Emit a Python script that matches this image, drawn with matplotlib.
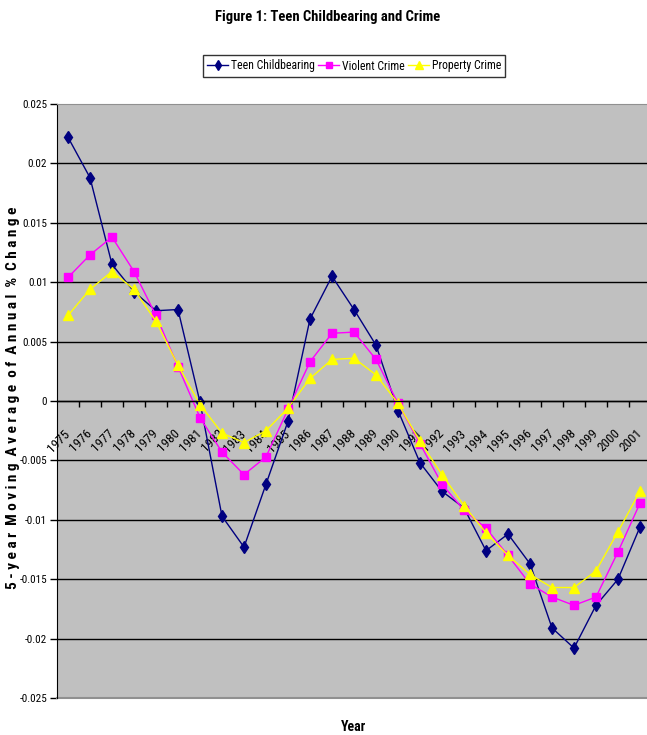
import matplotlib
matplotlib.use("Agg")
import matplotlib.pyplot as plt
from matplotlib.ticker import FixedLocator

years = [str(y) for y in range(1975, 2002)]

teen_childbearing = [0.0222, 0.0188, 0.0115, 0.0092, 0.0076, 0.0077, -0.0001,
                     -0.0097, -0.0123, -0.0070, -0.0017, 0.0069, 0.0105, 0.0077,
                     0.0047, -0.0008, -0.0052, -0.0076, -0.0090, -0.0126, -0.0112,
                     -0.0137, -0.0191, -0.0208, -0.0172, -0.0150, -0.0106]
violent_crime = [0.0104, 0.0123, 0.0138, 0.0109, 0.0072, 0.0029, -0.0014,
                 -0.0043, -0.0062, -0.0047, -0.0007, 0.0033, 0.0057, 0.0058,
                 0.0035, -0.0002, -0.0036, -0.0070, -0.0092, -0.0107, -0.0130,
                 -0.0154, -0.0165, -0.0172, -0.0165, -0.0127, -0.0086]
property_crime = [0.0072, 0.0094, 0.0109, 0.0094, 0.0067, 0.0030, -0.0003,
                  -0.0027, -0.0035, -0.0025, -0.0006, 0.0019, 0.0035, 0.0036,
                  0.0022, -0.0002, -0.0034, -0.0062, -0.0088, -0.0111, -0.0130,
                  -0.0146, -0.0157, -0.0157, -0.0143, -0.0110, -0.0076]

y_ticks = [0.025, 0.02, 0.015, 0.01, 0.005, 0, -0.005, -0.01, -0.015, -0.02, -0.025]
y_tick_labels = ["0.025", "0.02", "0.015", "0.01", "0.005", "0",
                 "-0.005", "-0.01", "-0.015", "-0.02", "-0.025"]

plt.rcParams["font.family"] = ["Roboto Condensed", "DejaVu Sans"]

fig = plt.figure(figsize=(6.47, 7.35), dpi=100)
ax = fig.add_axes([57 / 647, 1 - 698 / 735, 594 / 647, 594 / 735])
ax.set_facecolor("#C0C0C0")

x = list(range(len(years)))
ax.plot(x, teen_childbearing, color="#000080", marker="d", markersize=6,
        linewidth=1, label="Teen Childbearing")
ax.plot(x, violent_crime, color="#FF00FF", marker="s", markersize=5.5,
        linewidth=1, label="Violent Crime")
ax.plot(x, property_crime, color="#FFFF00", marker="^", markersize=6.5,
        linewidth=1, label="Property Crime")

ax.set_xlim(-0.5, len(years) - 0.5)
ax.set_ylim(-0.025, 0.025)
ax.yaxis.set_major_locator(FixedLocator(y_ticks))
ax.set_yticklabels(y_tick_labels, fontsize=8)
for v in y_ticks[1:-1]:
    ax.axhline(v, color="black", linewidth=1, zorder=0.5)

ax.spines["bottom"].set_position(("data", 0))
ax.spines["bottom"].set_linewidth(1)
ax.spines["top"].set_color("#909090")
ax.spines["right"].set_visible(False)
ax.axhline(-0.025, color="#909090", linewidth=1.5, clip_on=False)

# year labels at category centres, tick marks between categories
ax.set_xticks(x)
ax.set_xticklabels(years, rotation=45, ha="right", va="center",
                   rotation_mode="anchor", fontsize=9.5)
ax.set_xticks([i + 0.5 for i in x], minor=True)
ax.tick_params(axis="x", which="major", length=0, pad=22)
ax.tick_params(axis="x", which="minor", direction="out", length=4, width=1)
ax.tick_params(axis="y", direction="out", length=5, width=1, pad=2)

ylab = "  ".join(" ".join(w) for w in "5-year Moving Average of Annual % Change".split(" "))
fig.text(13 / 647, 1 - 398 / 735, ylab, rotation=90, ha="center", va="center",
         fontsize=11, fontweight="bold")
fig.text(354 / 647, 1 - 727 / 735, "Year", ha="center", va="center",
         fontsize=10, fontweight="bold")
fig.text(328 / 647, 1 - 17 / 735, "Figure 1: Teen Childbearing and Crime",
         ha="center", va="center", fontsize=10.5, fontweight="bold")

leg = fig.legend(loc="center", bbox_to_anchor=(354 / 647, 1 - 66 / 735), ncol=3,
                 fontsize=8.5, frameon=True, fancybox=False, edgecolor="black",
                 handlelength=1.8, handletextpad=0.2, columnspacing=0.3,
                 borderpad=0.35, markerscale=0.9)
leg.get_frame().set_linewidth(1)

fig.savefig("out.png", dpi=100)
